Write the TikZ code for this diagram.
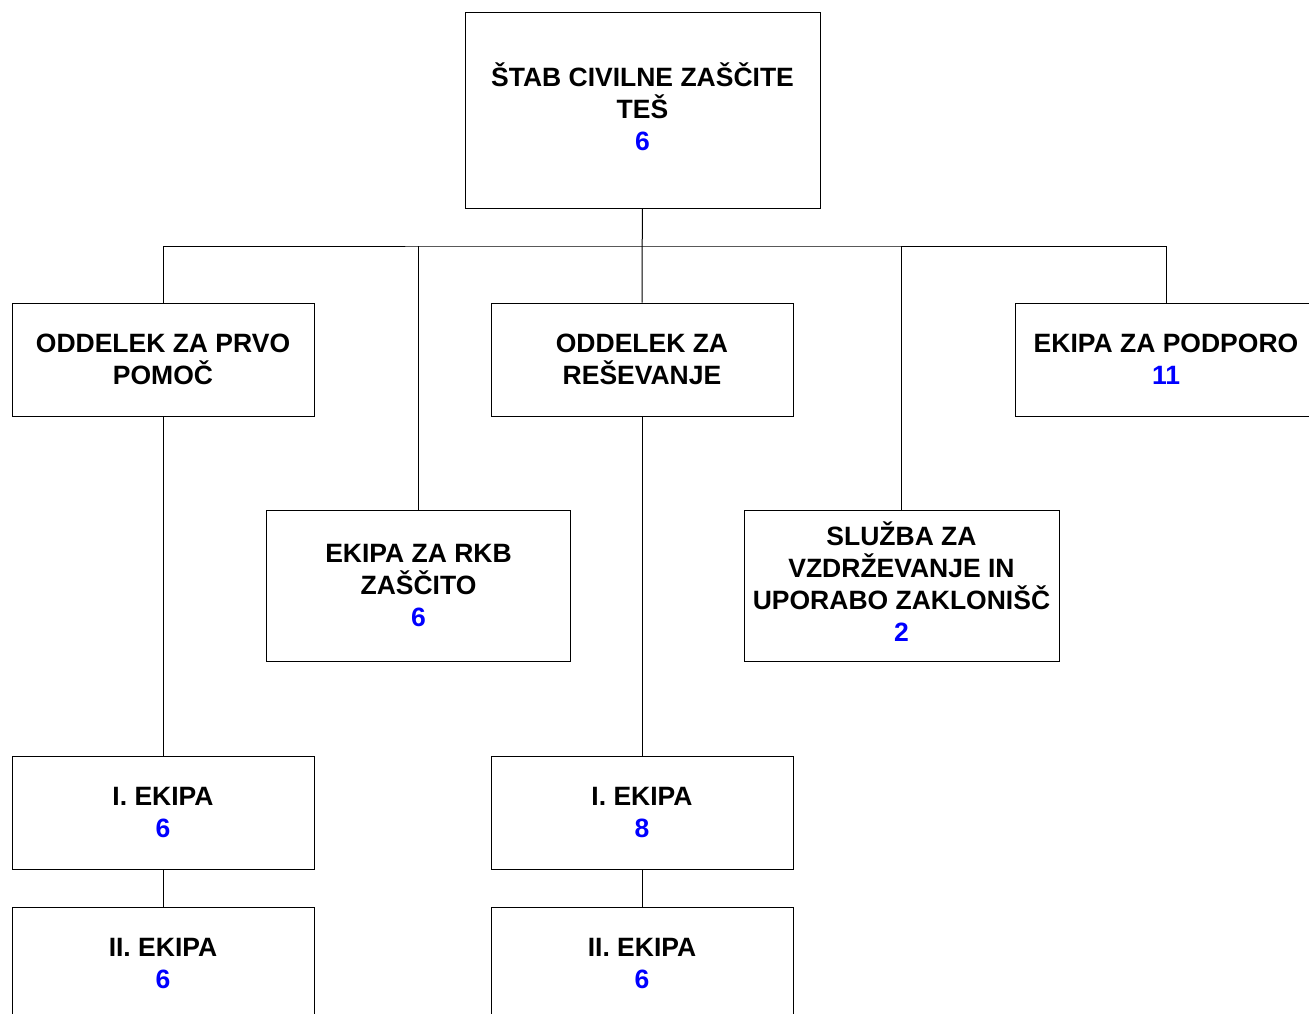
\documentclass[tikz,border=0pt]{standalone}
\usepackage{fontspec}
\setmainfont{Liberation Sans}
\definecolor{numblue}{RGB}{0,0,255}
\newcommand{\num}[1]{\textcolor{numblue}{#1}}

\begin{document}
\begin{tikzpicture}[x=1pt,y=-1pt,
  box/.style={draw,line width=1pt,inner sep=0pt,align=center,
    font=\fontsize{26.5}{32}\selectfont\bfseries,minimum height=113pt,minimum width=302pt},
  tall/.style={box,minimum height=151pt},
  caron/.style={execute at end node={\rule[-7pt]{0pt}{0pt}}}]
   \useasboundingbox (0,0) rectangle (1309,1014);
   \clip (0,0) rectangle (1309,1014);
   \node[box,caron,minimum width=355pt,minimum height=195pt] (stab) at (642.5,110.5) {ŠTAB CIVILNE ZAŠČITE\\TEŠ\\\num{6}};
   \node[box] (prvo) at (163,359.5) {ODDELEK ZA PRVO\\POMOČ};
   \node[box] (resev) at (642,359.5) {ODDELEK ZA\\REŠEVANJE};
   \node[box] (podpora) at (1166,359.5) {EKIPA ZA PODPORO\\\num{11}};
   \node[tall,minimum width=304pt] (rkb) at (418.5,585.5) {EKIPA ZA RKB\\ZAŠČITO\\\num{6}};
   \node[tall,caron,minimum width=315pt] (zaklon) at (901.5,585.5) {SLUŽBA ZA\\VZDRŽEVANJE IN\\UPORABO ZAKLONIŠČ\\\num{2}};
   \node[box] (prvoI) at (163,812.5) {I. EKIPA\\\num{6}};
   \node[box] (prvoII) at (163,963.5) {II. EKIPA\\\num{6}};
   \node[box] (resevI) at (642,812.5) {I. EKIPA\\\num{8}};
   \node[box] (resevII) at (642,963.5) {II. EKIPA\\\num{6}};
   \coordinate (bus) at (642,246);
   \begin{scope}[line width=1pt]
   \draw (stab) -- (resev);
   \draw (prvo.north) |- (bus) -| (podpora.north);
   \draw (rkb.north) -- (rkb.north |- bus);
   \draw (zaklon.north) -- (zaklon.north |- bus);
   \draw (prvo) -- (prvoI);
   \draw (prvoI) -- (prvoII);
   \draw (resev) -- (resevI);
   \draw (resevI) -- (resevII);
   \end{scope}
\end{tikzpicture}
\end{document}
